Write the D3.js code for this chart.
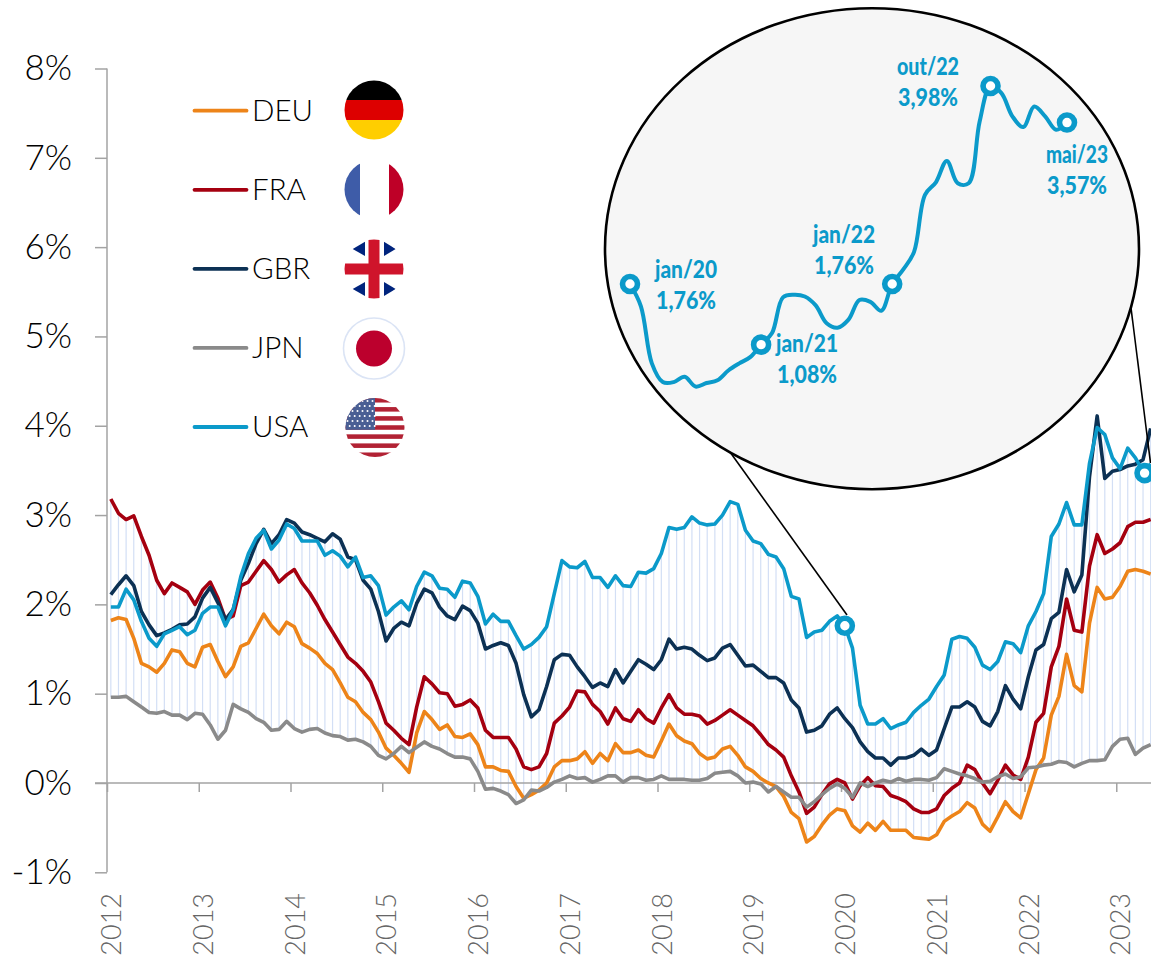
<!DOCTYPE html>
<html><head><meta charset="utf-8">
<script src="https://cdn.jsdelivr.net/npm/d3@7"></script>
<style>html,body{margin:0;padding:0;background:#fff;overflow:hidden}svg{display:block}</style>
</head><body><div id="chart"></div>
<script>
const years=["2012","2013","2014","2015","2016","2017","2018","2019","2020","2021","2022","2023"];
const yTicks=[-1,0,1,2,3,4,5,6,7,8];
const DEU=[1.82,1.85,1.83,1.62,1.34,1.30,1.24,1.34,1.49,1.47,1.34,1.30,1.52,1.55,1.36,1.19,1.30,1.53,1.57,1.73,1.89,1.76,1.67,1.80,1.75,1.56,1.51,1.45,1.34,1.27,1.12,0.96,0.91,0.79,0.71,0.57,0.39,0.31,0.22,0.12,0.56,0.80,0.71,0.60,0.65,
0.52,0.51,0.55,0.43,0.18,0.18,0.14,0.13,-0.04,-0.17,-0.13,-0.08,0,0.18,0.25,0.25,0.27,0.35,0.22,0.33,0.25,0.44,0.34,0.34,0.37,0.31,0.29,0.47,0.66,0.53,0.47,0.44,0.33,0.27,0.29,0.38,0.41,0.31,0.18,0.13,0.05,0,-0.04,-0.15,-0.33,
-0.40,-0.66,-0.60,-0.47,-0.36,-0.29,-0.31,-0.48,-0.55,-0.45,-0.53,-0.43,-0.53,-0.53,-0.53,-0.61,-0.62,-0.63,-0.58,-0.43,-0.37,-0.32,-0.22,-0.28,-0.46,-0.54,-0.38,-0.21,-0.32,-0.39,-0.12,0.15,0.28,0.76,0.97,1.44,1.09,1.02,1.79,2.19,2.06,2.08,2.20,2.37,2.39,2.37,2.34];
const FRA=[3.18,3.02,2.95,2.99,2.76,2.55,2.27,2.12,2.24,2.19,2.14,2.00,2.16,2.25,2.07,1.83,1.87,2.21,2.25,2.37,2.49,2.39,2.25,2.33,2.39,2.24,2.13,1.99,1.83,1.69,1.55,1.41,1.34,1.25,1.13,0.91,0.67,0.59,0.50,0.43,0.85,1.19,1.11,1.01,1.00,
0.86,0.88,0.93,0.84,0.59,0.51,0.51,0.51,0.38,0.18,0.15,0.18,0.33,0.67,0.75,0.85,1.03,1.02,0.88,0.80,0.66,0.84,0.72,0.69,0.82,0.72,0.67,0.84,0.99,0.84,0.77,0.77,0.75,0.66,0.70,0.76,0.82,0.76,0.70,0.64,0.54,0.43,0.37,0.29,0.08,
-0.10,-0.34,-0.27,-0.13,-0.01,0.04,0,-0.18,-0.03,0.06,-0.03,-0.04,-0.14,-0.17,-0.21,-0.29,-0.33,-0.33,-0.29,-0.14,-0.06,0,0.20,0.15,0,-0.12,0.03,0.20,0.09,0.04,0.29,0.68,0.78,1.30,1.53,2.06,1.71,1.69,2.43,2.78,2.57,2.62,2.69,2.87,2.92,2.92,2.95];
const GBR=[2.11,2.22,2.32,2.21,1.92,1.77,1.65,1.68,1.72,1.77,1.78,1.86,2.07,2.19,2.02,1.83,1.94,2.27,2.46,2.68,2.84,2.68,2.78,2.95,2.91,2.81,2.78,2.74,2.70,2.79,2.73,2.53,2.50,2.27,2.17,1.92,1.59,1.73,1.80,1.76,2.01,2.17,2.13,1.97,1.87,
1.83,1.98,1.93,1.79,1.50,1.54,1.57,1.54,1.34,0.99,0.74,0.82,1.08,1.38,1.44,1.43,1.30,1.19,1.07,1.12,1.08,1.27,1.12,1.25,1.38,1.33,1.27,1.38,1.61,1.50,1.52,1.50,1.43,1.37,1.40,1.51,1.55,1.43,1.31,1.32,1.25,1.18,1.18,1.12,0.93,
0.84,0.57,0.59,0.64,0.77,0.84,0.72,0.62,0.46,0.35,0.28,0.28,0.20,0.28,0.28,0.31,0.38,0.31,0.37,0.61,0.85,0.85,0.91,0.85,0.69,0.64,0.80,1.09,0.94,0.83,1.19,1.49,1.55,1.84,1.91,2.39,2.14,2.33,3.43,4.11,3.41,3.49,3.51,3.55,3.57,3.62,3.97];
const JPN=[0.96,0.96,0.97,0.91,0.85,0.79,0.78,0.80,0.76,0.76,0.71,0.78,0.77,0.65,0.49,0.59,0.88,0.83,0.79,0.72,0.68,0.59,0.60,0.69,0.61,0.57,0.60,0.61,0.56,0.53,0.52,0.48,0.49,0.46,0.41,0.31,0.27,0.33,0.41,0.34,0.40,0.46,0.41,0.38,0.33,
0.29,0.29,0.27,0.13,-0.07,-0.06,-0.09,-0.13,-0.23,-0.19,-0.08,-0.09,-0.05,0.01,0.04,0.08,0.05,0.06,0.01,0.04,0.08,0.08,0.01,0.06,0.06,0.03,0.04,0.08,0.04,0.04,0.04,0.03,0.03,0.05,0.11,0.12,0.13,0.08,0,0.01,-0.01,-0.10,-0.04,-0.10,-0.16,
-0.16,-0.27,-0.21,-0.13,-0.06,-0.01,-0.06,-0.16,0,-0.04,0,0.03,0.01,0.05,0.02,0.04,0.04,0.03,0.06,0.16,0.13,0.10,0.08,0.05,0.01,0.02,0.07,0.10,0.05,0.07,0.17,0.18,0.20,0.21,0.24,0.23,0.18,0.22,0.25,0.25,0.26,0.41,0.49,0.50,0.32,0.39,0.43];
const USA=[1.97,1.97,2.17,2.05,1.81,1.62,1.53,1.67,1.71,1.75,1.66,1.71,1.90,1.97,1.97,1.76,1.94,2.31,2.57,2.74,2.83,2.62,2.72,2.90,2.85,2.71,2.71,2.71,2.55,2.60,2.54,2.42,2.53,2.30,2.32,2.21,1.88,1.97,2.04,1.94,2.20,2.36,2.32,2.18,2.17,
2.08,2.26,2.24,2.09,1.78,1.89,1.81,1.81,1.65,1.50,1.55,1.63,1.75,2.12,2.49,2.42,2.41,2.48,2.30,2.30,2.19,2.32,2.21,2.20,2.36,2.35,2.40,2.57,2.86,2.84,2.86,2.98,2.91,2.89,2.90,3.00,3.15,3.12,2.83,2.71,2.68,2.56,2.53,2.40,2.09,
2.06,1.63,1.69,1.71,1.81,1.87,1.76,1.51,0.87,0.66,0.66,0.72,0.61,0.65,0.68,0.79,0.87,0.94,1.08,1.21,1.61,1.64,1.62,1.52,1.32,1.27,1.36,1.58,1.56,1.46,1.76,1.92,2.12,2.76,2.90,3.14,2.89,2.89,3.58,3.98,3.90,3.64,3.52,3.75,3.64,3.49,3.57];
const seriesNames=["DEU","FRA","GBR","JPN","USA"];
const seriesValues=[DEU,FRA,GBR,JPN,USA];
const seriesColors=["#ed8419","#a50010","#0c3154","#8a8a8a","#0b9aca"];
const calloutMonths=["jan/20","jan/21","jan/22","out/22","mai/23"];
const calloutIdx=[96,108,120,129,136];
const calloutVals=[1.76,1.08,1.76,3.98,3.57];
const calloutText=["1,76%","1,08%","1,76%","3,98%","3,57%"];

const W=1151,H=957,FONT="Lato, 'Noto Sans', sans-serif";
const svg=d3.select("#chart").append("svg").attr("width",W).attr("height",H).attr("viewBox",`0 0 ${W} ${H}`);
const x=d3.scaleLinear().domain([-0.5,136.5]).range([107,1154.5]);
const y=d3.scaleLinear().domain([-1,8]).range([872.3,68.5]);
const months=d3.range(USA.length);

// high-low lines
svg.append("g").selectAll("line").data(months).join("line")
 .attr("x1",i=>x(i)).attr("x2",i=>x(i))
 .attr("y1",i=>y(d3.max(seriesValues,s=>s[i]))).attr("y2",i=>y(d3.min(seriesValues,s=>s[i])))
 .attr("stroke","#d3dff5").attr("stroke-width",1.2);

// axes
const axisY=d3.axisLeft(y).tickValues(yTicks).tickSize(12).tickPadding(0).tickFormat(d=>d+"%");
const gy=svg.append("g").attr("transform",`translate(${x(-0.5)},0)`).call(axisY);
gy.selectAll("path,line").attr("stroke","#a3a3a3").attr("stroke-width",1.5);
gy.select("path").attr("d",`M0,${y(8)}V${y(-1)}`);
gy.selectAll("text").attr("x",-35).attr("dy",".32em").attr("font-family",FONT).attr("font-weight",300).attr("font-size",35).attr("fill","#000");
const yearTicks=years.map((_,k)=>-0.5+12*k);
const axisX=d3.axisBottom(x).tickValues(yearTicks).tickSize(9).tickFormat((d,k)=>years[k]);
const gx=svg.append("g").attr("transform",`translate(0,${y(0)})`).call(axisX);
gx.selectAll("path,line").attr("stroke","#a3a3a3").attr("stroke-width",1.5);
gx.select("path").attr("d",`M95,0H${W}`);
gx.selectAll("text").attr("text-anchor","end").attr("dy",null)
 .attr("transform",function(d){return `translate(4.5,${893-y(0)}) rotate(-90) translate(0,9)`;})
 .attr("x",0).attr("y",0).attr("font-family",FONT).attr("font-weight",300).attr("font-size",27).attr("fill","#666");

// main lines
const lineMain=d3.line().x((d,i)=>x(i)).y(d=>y(d));
svg.append("g").selectAll("path").data(seriesValues).join("path")
 .attr("d",lineMain).attr("fill","none").attr("stroke",(d,i)=>seriesColors[i])
 .attr("stroke-width",3.6).attr("stroke-linejoin","round");

// leader lines
const leaders=[[847,615,730,452],[1130,300,1150.5,463]];
svg.append("g").selectAll("line").data(leaders).join("line")
 .attr("x1",d=>d[0]).attr("y1",d=>d[1]).attr("x2",d=>d[2]).attr("y2",d=>d[3])
 .attr("stroke","#000").attr("stroke-width",1.6);

// main markers
const marker=sel=>sel.attr("fill","#fff").attr("stroke",seriesColors[4]).attr("stroke-width",5.6).attr("r",7.5);
svg.append("circle").attr("cx",x(96)).attr("cy",y(USA[96])).call(marker);
svg.append("circle").attr("cx",x(135.2)).attr("cy",y(3.47)).call(marker);

// inset
svg.append("ellipse").attr("cx",872).attr("cy",248.7).attr("rx",267).attr("ry",240.5)
 .attr("fill","#f6f6f6").attr("stroke","#000").attr("stroke-width",2.6);
const ix=d3.scaleLinear().domain([96,136]).range([630,1067]);
const iy=d3.scaleLinear().domain([1.76,3.98]).range([284,86]);
const insetIdx=d3.range(96,137);
svg.append("path").datum(insetIdx).attr("fill","none").attr("stroke",seriesColors[4]).attr("stroke-width",4)
 .attr("d",d3.line().x(i=>ix(i)).y(i=>iy(USA[i])).curve(d3.curveCatmullRom.alpha(0.5)));
svg.append("g").selectAll("circle").data(calloutIdx).join("circle")
 .attr("cx",i=>ix(i)).attr("cy",(i,k)=>iy(calloutVals[k])).call(marker);
const labelPos=[[686,270],[807,344],[844,235],[928,67],[1077,155]];
const lab=svg.append("g").attr("font-family",FONT).attr("font-weight",900).attr("font-size",25).attr("fill",seriesColors[4]).attr("text-anchor","middle");
calloutMonths.forEach((m,k)=>{
 const [lx,ly]=labelPos[k];
 lab.append("text").attr("x",lx).attr("y",ly+8).attr("textLength",62).attr("lengthAdjust","spacingAndGlyphs").text(m);
 lab.append("text").attr("x",lx).attr("y",ly+39).attr("textLength",60).attr("lengthAdjust","spacingAndGlyphs").text(calloutText[k]);
});

// legend
const legY=d3.scalePoint().domain(seriesNames).range([110.7,427]);
const leg=svg.append("g");
seriesNames.forEach((n,k)=>{
 leg.append("line").attr("x1",194.5).attr("x2",246.5).attr("y1",legY(n)).attr("y2",legY(n))
  .attr("stroke",seriesColors[k]).attr("stroke-width",3.8).attr("stroke-linecap","round");
 leg.append("text").attr("x",252).attr("y",legY(n)+10).attr("font-family",FONT).attr("font-weight",300).attr("font-size",29.5).attr("fill","#000").text(n);
});

// flags
const defs=svg.append("defs");
function flag(id,cx,cy,r){
 defs.append("clipPath").attr("id",id).append("circle").attr("cx",cx).attr("cy",cy).attr("r",r);
 return svg.append("g").attr("clip-path",`url(#${id})`);
}
function rect(g,a,b,w,h,c){g.append("rect").attr("x",a).attr("y",b).attr("width",w).attr("height",h).attr("fill",c);}
{ const g=flag("de",374,110,29.5);
  rect(g,344,80,60,20,"#000");rect(g,344,100,60,20,"#dd0000");rect(g,344,120,60,20,"#ffce00"); }
{ const g=flag("fr",374,189.5,29.5);
  rect(g,344,160,16,60,"#3e5ca8");rect(g,360,160,29,60,"#fff");rect(g,389,160,16,60,"#be0027"); }
{ const g=flag("uk",374,269,29.5);
  rect(g,344,239,60,60,"#fff");
  const tris=[[352.7,249,365,241.7,365,256],[395.7,249,384,241.7,384,256],[352.7,289,365,282,365,296],[395.7,289,384,282,384,296]];
  g.selectAll("polygon").data(tris).join("polygon").attr("points",t=>`${t[0]},${t[1]} ${t[2]},${t[3]} ${t[4]},${t[5]}`).attr("fill","#00247d");
  rect(g,344,263.5,60,11,"#cf142b");rect(g,368.5,239,11,60,"#cf142b"); }
svg.append("circle").attr("cx",374).attr("cy",348.5).attr("r",30.5).attr("fill","#fff").attr("stroke","#dbe4f5").attr("stroke-width",1.6);
svg.append("circle").attr("cx",374).attr("cy",348.5).attr("r",18).attr("fill","#bc002d");
{ const g=flag("us",375,427.5,29.5);
  rect(g,345,398,60,60,"#fff");
  d3.range(0,13,2).forEach(k=>rect(g,345,398+k*4.54,60,4.54,"#b22234"));
  rect(g,345,398,30,31.8,"#4a5f94");
  d3.range(6).forEach(r=>d3.range(6).forEach(c=>{
    g.append("circle").attr("cx",347.5+c*5+(r%2)*2.2).attr("cy",401+r*5).attr("r",1).attr("fill","#fff");
  })); }
</script></body></html>
